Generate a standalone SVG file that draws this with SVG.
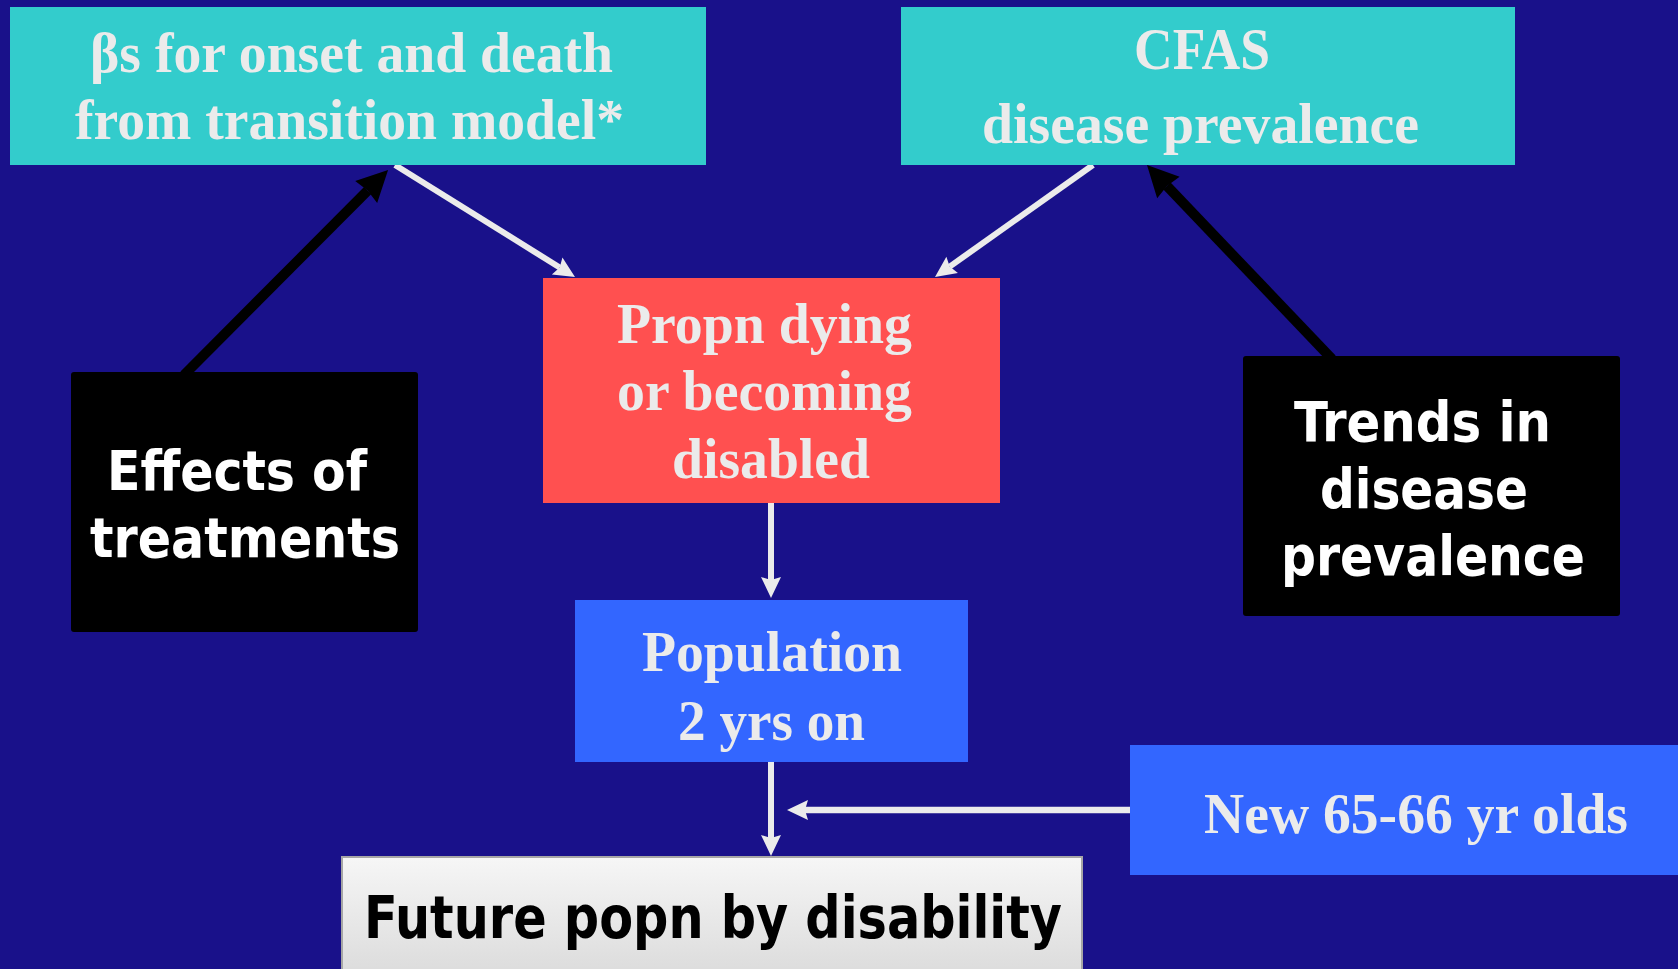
<svg xmlns="http://www.w3.org/2000/svg" width="1678" height="969" viewBox="0 0 1678 969">
<defs>
<style>
.serif{font-family:"Liberation Serif","Times New Roman",serif;font-weight:bold;font-size:56px;fill:#EBEBEB}
.sans{font-family:"DejaVu Sans Condensed","DejaVu Sans",sans-serif;font-weight:bold;font-size:56px;fill:#FFFFFF}
.wl{stroke:#EBEBEB;stroke-width:6;fill:none;marker-end:url(#wh)}
.bl{stroke:#000000;stroke-width:10;fill:none;marker-end:url(#bk)}
</style>
<marker id="wh" markerUnits="userSpaceOnUse" orient="auto" refX="3" refY="0" markerWidth="30" markerHeight="30" overflow="visible">
<path d="M0,-10 L21,0 L0,10 L3,0 Z" fill="#EBEBEB"/>
</marker>
<marker id="bk" markerUnits="userSpaceOnUse" orient="auto" refX="2" refY="0" markerWidth="40" markerHeight="40" overflow="visible">
<path d="M0,-15.5 L31,0 L0,15.5 L2,0 Z" fill="#000000"/>
</marker>
<linearGradient id="fg" x1="0" y1="0" x2="0" y2="1">
<stop offset="0" stop-color="#F6F6F6"/>
<stop offset="1" stop-color="#DADADA"/>
</linearGradient>
</defs>
<rect x="0" y="0" width="1678" height="969" fill="#19118A"/>
<g id="connectors">
<line class="wl" x1="395" y1="165" x2="559.7" y2="267.5"/>
<line class="wl" x1="1093" y1="165" x2="949.7" y2="266.6"/>
<line class="wl" x1="771" y1="503" x2="771" y2="580"/>
<line class="wl" x1="771" y1="762" x2="771" y2="838"/>
<line class="wl" x1="1130" y1="810" x2="805" y2="810" style="stroke-width:6.5"/>
<line class="bl" x1="184" y1="375" x2="367.6" y2="190.6"/>
<line class="bl" x1="1332" y1="359" x2="1167" y2="186"/>
</g>
<g id="node-betas">
<rect x="10" y="7" width="696" height="158" fill="#33CCCC"/>
<text class="serif" x="90" y="72" textLength="523" lengthAdjust="spacingAndGlyphs">βs for onset and death</text>
<text class="serif" x="75" y="139" textLength="549" lengthAdjust="spacingAndGlyphs">from transition model*</text>
</g>
<g id="node-cfas">
<rect x="901" y="7" width="614" height="158" fill="#33CCCC"/>
<text class="serif" x="1134" y="69" textLength="136" lengthAdjust="spacingAndGlyphs" style="font-size:59px">CFAS</text>
<text class="serif" x="982" y="143" textLength="437" lengthAdjust="spacingAndGlyphs" style="font-size:58px">disease prevalence</text>
</g>
<g id="node-propn">
<rect x="543" y="278" width="457" height="225" fill="#FF5050"/>
<text class="serif" x="617" y="343" textLength="295" lengthAdjust="spacingAndGlyphs">Propn dying</text>
<text class="serif" x="617" y="410" textLength="295" lengthAdjust="spacingAndGlyphs">or becoming</text>
<text class="serif" x="672" y="478" textLength="198" lengthAdjust="spacingAndGlyphs">disabled</text>
</g>
<g id="node-effects">
<rect x="71" y="372" width="347" height="260" rx="3" fill="#000000"/>
<text class="sans" x="107" y="490" textLength="260" lengthAdjust="spacingAndGlyphs">Effects of</text>
<text class="sans" x="90" y="557" textLength="310" lengthAdjust="spacingAndGlyphs">treatments</text>
</g>
<g id="node-trends">
<rect x="1243" y="356" width="377" height="260" rx="3" fill="#000000"/>
<text class="sans" x="1294" y="441" textLength="257" lengthAdjust="spacingAndGlyphs">Trends in</text>
<text class="sans" x="1320" y="508" textLength="208" lengthAdjust="spacingAndGlyphs">disease</text>
<text class="sans" x="1281" y="575" textLength="304" lengthAdjust="spacingAndGlyphs">prevalence</text>
</g>
<g id="node-population">
<rect x="575" y="600" width="393" height="162" fill="#3366FF"/>
<text class="serif" x="642" y="671" textLength="260" lengthAdjust="spacingAndGlyphs">Population</text>
<text class="serif" x="678" y="740" textLength="187" lengthAdjust="spacingAndGlyphs">2 yrs on</text>
</g>
<g id="node-new">
<rect x="1130" y="745" width="548" height="130" fill="#3366FF"/>
<text class="serif" x="1204" y="833" textLength="424" lengthAdjust="spacingAndGlyphs">New 65-66 yr olds</text>
</g>
<g id="node-future">
<rect x="342" y="857" width="740" height="125" fill="url(#fg)" stroke="#A6A6A6" stroke-width="2"/>
<text class="sans" x="364" y="938" textLength="698" lengthAdjust="spacingAndGlyphs" style="fill:#000000;font-size:59px">Future popn by disability</text>
</g>
</svg>
